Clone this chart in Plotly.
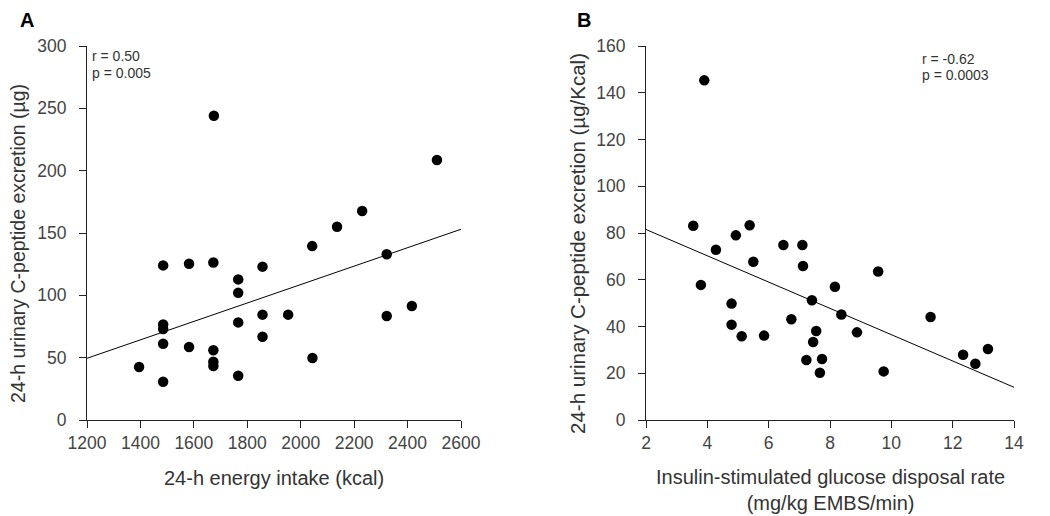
import plotly.graph_objects as go

# Panel A data: 24-h energy intake (kcal) vs 24-h urinary C-peptide excretion (µg)
a_energy = [1675, 2510, 2230, 2136, 2043, 1485, 1582, 1673, 1857, 1766, 1766,
            1485, 1485, 1485, 1582, 1673, 1673, 1673, 1395, 1485, 1766, 1766,
            1857, 1857, 1953, 2044, 2322, 2322, 2416]
a_cpep = [244, 208.5, 167.6, 155, 139.5, 124, 125.3, 126.4, 123, 112.8, 102,
          76.7, 73, 61.2, 58.5, 56, 46.8, 43.3, 42.5, 30.7, 78.3, 35.5,
          84.5, 66.8, 84.5, 49.7, 132.9, 83.4, 91.4]
a_fit_x = [1200, 2600]
a_fit_y = [49.5, 153]

# Panel B data: insulin-stimulated glucose disposal rate vs C-peptide (µg/Kcal)
b_gdr = [3.90, 3.54, 4.93, 5.38, 4.28, 6.48, 7.10, 3.79, 5.50, 7.12, 9.57,
         8.16, 4.79, 7.41, 8.37, 6.74, 11.28, 4.79, 5.12, 5.85, 7.55, 7.45,
         8.88, 7.23, 7.74, 7.67, 9.75, 12.34, 12.74, 13.15]
b_cpep = [145.3, 83.1, 79, 83.3, 72.8, 74.9, 74.9, 57.8, 67.7, 65.9, 63.5,
          57, 49.8, 51.2, 45.1, 43.1, 44.1, 40.8, 35.8, 36.1, 38.1, 33.4,
          37.5, 25.7, 26.1, 20.2, 20.8, 27.9, 24.1, 30.4]
b_fit_x = [2, 14]
b_fit_y = [81.5, 14]

a_xticks = [1200, 1400, 1600, 1800, 2000, 2200, 2400, 2600]
a_yticks = [0, 50, 100, 150, 200, 250, 300]
b_xticks = [2, 4, 6, 8, 10, 12, 14]
b_yticks = [0, 20, 40, 60, 80, 100, 120, 140, 160]

FONT = "Liberation Sans, Arial, sans-serif"
TXT = "#333333"

fig = go.Figure()
marker = dict(color="black", size=10.5)
fig.add_trace(go.Scatter(x=a_fit_x, y=a_fit_y, mode="lines",
                         line=dict(color="black", width=1), xaxis="x", yaxis="y",
                         showlegend=False, hoverinfo="skip"))
fig.add_trace(go.Scatter(x=a_energy, y=a_cpep, mode="markers", marker=marker,
                         xaxis="x", yaxis="y", showlegend=False, cliponaxis=False))
fig.add_trace(go.Scatter(x=b_fit_x, y=b_fit_y, mode="lines",
                         line=dict(color="black", width=1), xaxis="x2", yaxis="y2",
                         showlegend=False, hoverinfo="skip"))
fig.add_trace(go.Scatter(x=b_gdr, y=b_cpep, mode="markers", marker=marker,
                         xaxis="x2", yaxis="y2", showlegend=False, cliponaxis=False))

# page has an 8px body margin; figure fills the rest of the 1050x516 window
OFF = 8
W, H = 1050 - OFF, 516 - OFF
def px_x(p):
    return (p - OFF) / W
def px_y(p):
    return 1 - (p - OFF) / H

axis_common = dict(showline=True, linecolor="#222", linewidth=1, ticks="outside",
                   ticklen=7, tickcolor="#222", tickwidth=1, showgrid=False,
                   zeroline=False, automargin=False,
                   tickfont=dict(family=FONT, size=17.5, color="#444"))

fig.update_layout(
    width=W, height=H,
    margin=dict(l=0, r=0, t=0, b=0, pad=0, autoexpand=False),
    paper_bgcolor="white", plot_bgcolor="white",
    font=dict(family=FONT, color=TXT),
    xaxis=dict(domain=[px_x(87), px_x(461)], range=[1200, 2600], tickvals=a_xticks,
               anchor="y", ticklabelstandoff=0, **axis_common),
    yaxis=dict(domain=[px_y(420), px_y(46)], range=[0, 300], tickvals=a_yticks,
               anchor="x", ticklabelstandoff=9, **axis_common),
    xaxis2=dict(domain=[px_x(646), px_x(1014)], range=[2, 14], tickvals=b_xticks,
                anchor="y2", ticklabelstandoff=0, **axis_common),
    yaxis2=dict(domain=[px_y(420), px_y(46)], range=[0, 160], tickvals=b_yticks,
                anchor="x2", ticklabelstandoff=9, **axis_common),
)

def ann(text, x, y, size, xanchor="center", yanchor="middle", angle=0, bold=False, color=TXT):
    fig.add_annotation(text=f"<b>{text}</b>" if bold else text, x=px_x(x), y=px_y(y),
                       xref="paper", yref="paper", showarrow=False,
                       xanchor=xanchor, yanchor=yanchor, textangle=angle,
                       borderpad=0,
                       font=dict(family=FONT, size=size, color=color))

ann("A", 27, 8, 20, yanchor="top", bold=True, color="black")
ann("B", 584, 8, 20, yanchor="top", bold=True, color="black")
ann("r = 0.50", 91, 56, 14, xanchor="left")
ann("p = 0.005", 91, 73, 14, xanchor="left")
ann("r = -0.62", 921, 59, 14, xanchor="left")
ann("p = 0.0003", 921, 75, 14, xanchor="left")
ann("24-h energy intake (kcal)", 274, 478, 20)
ann("Insulin-stimulated glucose disposal rate<br>(mg/kg EMBS/min)", 830, 490, 20)
ann("24-h urinary C-peptide excretion (µg)", 18, 244, 19.5, angle=-90)
ann("24-h urinary C-peptide excretion (µg/Kcal)", 577, 244, 20.5, angle=-90)

fig.write_html("out.html")
